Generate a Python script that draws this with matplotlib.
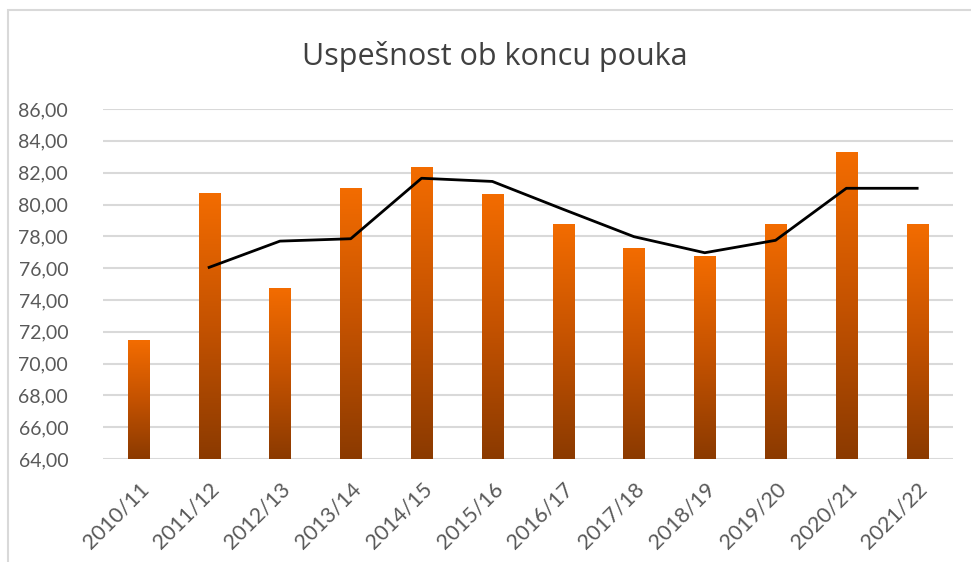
import numpy as np
import matplotlib
matplotlib.use("Agg")
import matplotlib.pyplot as plt
from matplotlib.colors import LinearSegmentedColormap
from matplotlib.patches import Rectangle

categories = ["2010/11", "2011/12", "2012/13", "2013/14", "2014/15", "2015/16",
              "2016/17", "2017/18", "2018/19", "2019/20", "2020/21", "2021/22"]
values = [71.42, 80.68, 74.71, 81.00, 82.29, 80.59, 78.75, 77.20, 76.74, 78.75, 83.28, 78.75]
trend = [np.nan, 76.05, 77.70, 77.85, 81.65, 81.45, 79.70, 77.98, 76.97, 77.75, 81.02, 81.02]
yticks = [64, 66, 68, 70, 72, 74, 76, 78, 80, 82, 84, 86]
title = "Uspešnost ob koncu pouka"

plt.rcParams['font.family'] = ['Lato', 'DejaVu Sans']
txt = '#595959'

fig = plt.figure(figsize=(9.71, 5.62), dpi=100)
ax = fig.add_axes([0.106, 0.183, 0.875, 0.623])

x = np.arange(len(categories))
bars = ax.bar(x, values, width=0.3, bottom=0, color='none', zorder=2)
cmap = LinearSegmentedColormap.from_list('g', ['#8B3A00', '#C45200', '#F36C00'])
grad = np.linspace(0, 1, 256).reshape(-1, 1)
ax.set_ylim(64, 86)
ax.set_xlim(-0.5, len(categories) - 0.5)
for b in bars:
    x0 = b.get_x(); w = b.get_width(); top = b.get_height()
    ax.imshow(grad, extent=[x0, x0 + w, 64, top], origin='lower', cmap=cmap,
              aspect='auto', zorder=2, interpolation='bilinear')
ax.set_xlim(-0.5, len(categories) - 0.5)
ax.set_ylim(64, 86)

ax.plot(x, trend, color='black', lw=2, zorder=3)

ax.set_yticks(yticks)
ax.set_yticklabels([f"{v:.2f}".replace('.', ',') for v in yticks], fontsize=14, color=txt)
ax.set_xticks(x)
ax.set_xticklabels(categories, rotation=45, ha='right', rotation_mode='anchor',
                   fontsize=15.5, color=txt)
ax.tick_params(axis='both', length=0)
ax.tick_params(axis='y', pad=25)
ax.tick_params(axis='x', pad=14)
for s in ax.spines.values():
    s.set_visible(False)
ax.grid(axis='y', color='#D9D9D9', lw=1.5, zorder=0)
ax.set_axisbelow(True)

fig.text(0.51, 0.900, title, ha='center', va='center', fontsize=22, color='#404040',
         family=['Open Sans', 'DejaVu Sans'])
fig.patches.append(Rectangle((8 / 971, -0.05), 1.1, 1.05 - 10 / 562 + 0.0,
                             transform=fig.transFigure,
                             fill=False, edgecolor='#D9D9D9', lw=1.5))

fig.savefig('out.png', dpi=100)
